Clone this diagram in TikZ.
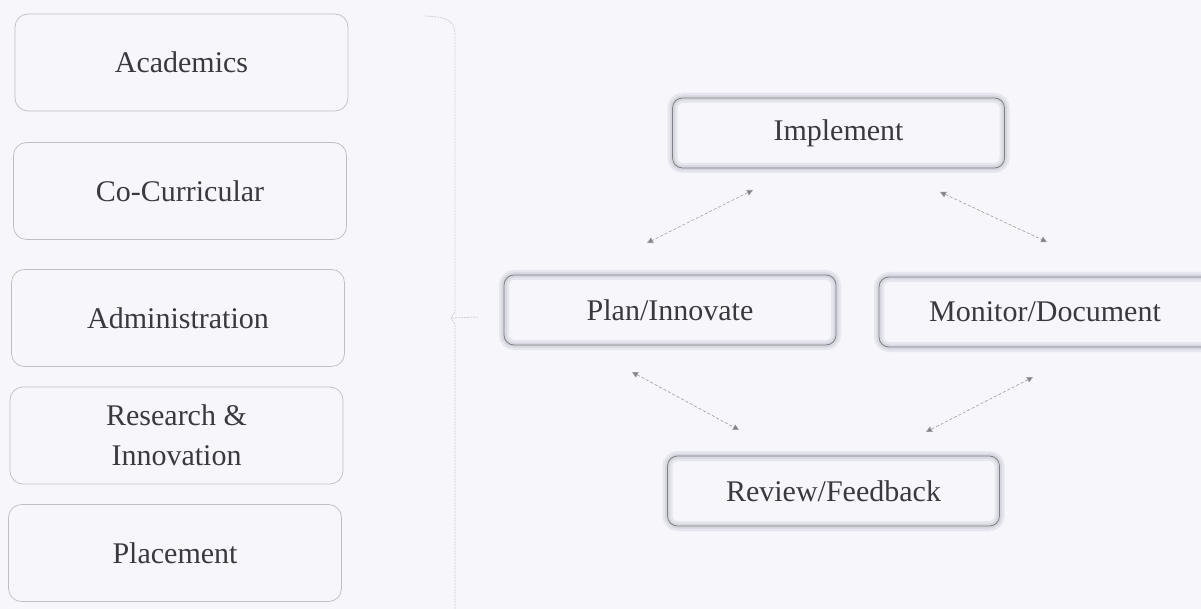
\documentclass[tikz,border=0pt]{standalone}
\usepackage{fontspec}
\setmainfont{Liberation Serif}
\usetikzlibrary{arrows.meta}
\definecolor{bgc}{HTML}{F6F6FB}
\definecolor{txtc}{HTML}{3A3A3E}
\definecolor{leftline}{HTML}{BEBEC6}
\definecolor{rightline}{HTML}{808087}
\definecolor{haloa}{HTML}{E6E6EE}
\definecolor{halob}{HTML}{D6D6DE}
\definecolor{arrc}{HTML}{9A9AA2}
\definecolor{bracec}{HTML}{D0D0D8}
\begin{document}
\begin{tikzpicture}[x=1pt,y=-1pt,
  lbox/.style={draw=leftline, line width=0.7pt, rounded corners=13pt, text=txtc,
    minimum width=333pt, minimum height=97pt, inner sep=0pt, align=center,
    font=\fontsize{30}{40}\selectfont},
  rbox/.style={draw=rightline, line width=0.8pt, rounded corners=10pt, text=txtc,
    minimum width=332pt, minimum height=70pt, inner sep=0pt, align=center,
    font=\fontsize{30}{40}\selectfont,
    preaction={draw=haloa, line width=10pt, rounded corners=10pt},
    preaction={draw=halob, line width=5pt, rounded corners=10pt}},
  link/.style={draw=arrc, line width=0.6pt, dash pattern=on 3pt off 2pt,
    {Triangle[length=6pt,width=6pt,fill=rightline]}-{Triangle[length=6pt,width=6pt,fill=rightline]}}
]
\fill[bgc] (0,0) rectangle (1201,609);
\useasboundingbox (0,0) rectangle (1201,609);

% left column
\node[lbox] (acad) at (181.5,62.5) {Academics};
\node[lbox] (cocu) at (180,191) {Co-Curricular};
\node[lbox] (admin) at (178,318) {Administration};
\node[lbox] (res) at (176.5,435.5) {Research \&\\Innovation};
\node[lbox] (plac) at (175,553) {Placement};

% brace
\draw[bracec, line width=0.8pt, dash pattern=on 2pt off 1pt]
  (425,16) .. controls (450,17) and (455,22) .. (455,36) -- (455,312) -- (451,318) -- (455,324) -- (455,609);
\draw[bracec, line width=0.8pt, dash pattern=on 2pt off 1pt] (452,318) -- (478,317);

% cycle
\begin{scope}
\clip (0,0) rectangle (1201,609);
\node[rbox] (impl) at (838.5,133) {Implement};
\node[rbox] (plan) at (670,310) {Plan/Innovate};
\node[rbox] (moni) at (1045,312) {Monitor/Document};
\node[rbox] (revi) at (833.5,491) {Review/Feedback};
\end{scope}

\coordinate (a1) at (753,190);
\coordinate (a2) at (647,243);
\coordinate (b1) at (940,192);
\coordinate (b2) at (1047,242);
\coordinate (c1) at (632,372);
\coordinate (c2) at (739,430);
\coordinate (d1) at (1033,377);
\coordinate (d2) at (926,432);

\draw[link] (a1) -- (a2);
\draw[link] (b1) -- (b2);
\draw[link] (c1) -- (c2);
\draw[link] (d1) -- (d2);
\end{tikzpicture}
\end{document}
